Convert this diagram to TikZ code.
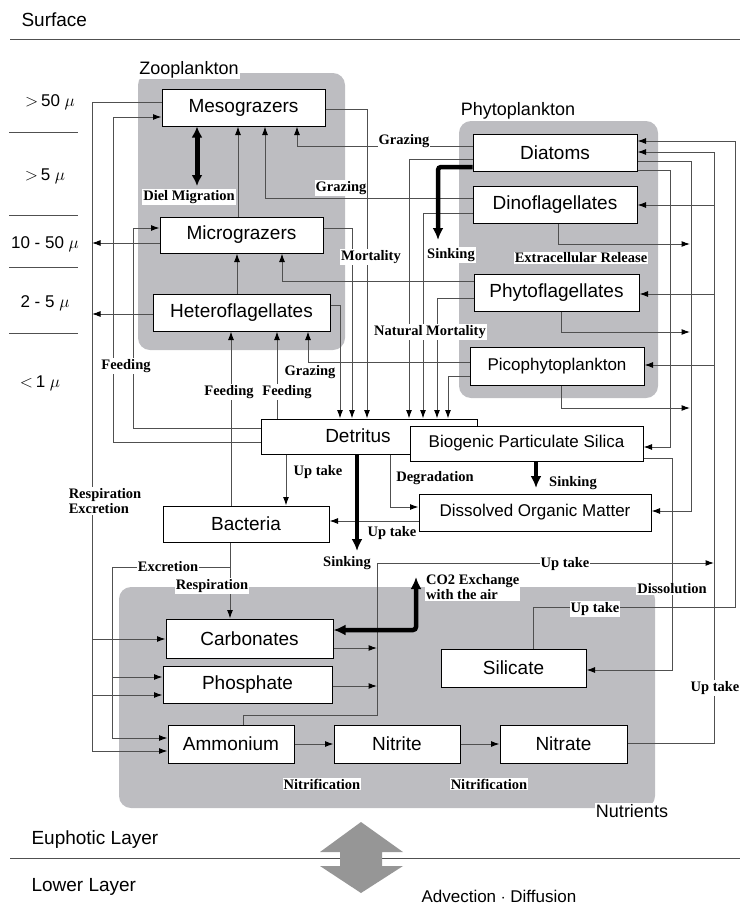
\documentclass[tikz,border=0pt]{standalone}
\usepackage{fontspec}
\setmainfont{Liberation Sans}
\newfontfamily\tms{Liberation Serif}
\usetikzlibrary{arrows.meta}
\definecolor{gbox}{RGB}{189,189,193}
\definecolor{lc}{RGB}{80,80,80}
\definecolor{garr}{RGB}{150,150,150}
\begin{document}
\begin{tikzpicture}[x=1pt,y=-1pt,
 box/.style={draw=black, fill=white, line width=1pt, inner sep=0pt, font=\fontsize{19}{20}\selectfont},
 sbox/.style={box, font=\fontsize{17}{18}\selectfont},
 grp/.style={fill=gbox, rounded corners=12pt},
 ln/.style={draw=lc, line width=1pt},
 ar/.style={ln, -{Latex[length=8.5pt,width=6pt,color=black]}},
 thk/.style={draw=black, line width=4.5pt, -{Latex[length=12pt,width=11pt]}},
 lab/.style={fill=white, inner sep=1pt, font=\tms\bfseries\fontsize{14.5}{15}\selectfont},
 glab/.style={fill=white, inner sep=1pt, font=\fontsize{18}{20}\selectfont},
 sizelab/.style={font=\fontsize{17}{18}\selectfont},
 layer/.style={font=\fontsize{19}{20}\selectfont, anchor=west},
]
\useasboundingbox (0,0) rectangle (740,905);

% layers
\node[layer] (surf) at (18,20) {Surface};
\draw[lc, line width=1pt] (10,39) -- (740,39);
\node[layer] (eup) at (28,840) {Euphotic Layer};
\node[layer] (low) at (28,887) {Lower Layer};
\draw[lc, line width=1pt] (10,858) -- (740,858);
\fill[garr] (361,822) -- (403,852) -- (382,852) -- (382,866) -- (403,866) -- (361,893)
  -- (320,866) -- (340,866) -- (340,852) -- (320,852) -- cycle;
\node[anchor=west, font=\fontsize{17}{18}\selectfont] (adv) at (418,896) {Advection $\cdot$ Diffusion};

% size classes
\node[sizelab] (s1) at (50,102) {$>$\,50 $\mu$};
\node[sizelab] (s2) at (45,176) {$>$\,5 $\mu$};
\node[sizelab] (s3) at (45,244) {10 - 50 $\mu$};
\node[sizelab] (s4) at (45,303) {2 - 5 $\mu$};
\node[sizelab] (s5) at (40,383) {$<$\,1 $\mu$};
\foreach \yy in {132,215,267,333} \draw[lc, line width=1pt] (9,\yy) -- (78,\yy);

% group backgrounds
\fill[grp] (138,73) rectangle (345,350);
\fill[grp] (459,121) rectangle (658,398);
\fill[grp] (119,587) rectangle (655,808);

% boxes
\node[box, minimum width=163pt, minimum height=37pt] (meso) at (243.5,107.5) {Mesograzers};
\node[box, minimum width=163pt, minimum height=36pt] (micro) at (241.5,235) {Micrograzers};
\node[box, minimum width=177pt, minimum height=37pt] (hetero) at (241.5,312.5) {Heteroflagellates};
\node[box, minimum width=164pt, minimum height=37pt] (diat) at (555,152.5) {Diatoms};
\node[box, minimum width=164pt, minimum height=37pt] (dino) at (555,204.5) {Dinoflagellates};
\node[box, minimum width=165pt, minimum height=37pt] (phytof) at (556.5,292.5) {Phytoflagellates};
\node[sbox, minimum width=174pt, minimum height=38pt] (pico) at (557,366) {Picophytoplankton};
\node[box, minimum width=216pt, minimum height=35pt] (det) at (369,436.5) {};
\node[box, draw=none, fill=none] (dettext) at (358,436) {Detritus};
\node[sbox, minimum width=233pt, minimum height=35pt] (bps) at (526.5,443.5) {Biogenic Particulate Silica};
\node[sbox, minimum width=232pt, minimum height=37pt] (dom) at (535,512.5) {Dissolved Organic Matter};
\node[box, minimum width=166pt, minimum height=36pt] (bact) at (246,524) {Bacteria};
\node[box, minimum width=167pt, minimum height=39pt] (carb) at (249.5,638.5) {Carbonates};
\node[box, minimum width=169pt, minimum height=37pt] (phos) at (247.5,684.5) {Phosphate};
\node[box, minimum width=126pt, minimum height=38pt] (ammo) at (231,744) {Ammonium};
\node[box, minimum width=126pt, minimum height=38pt] (nitrite) at (397,744) {Nitrite};
\node[box, minimum width=127pt, minimum height=38pt] (nitrate) at (563.5,744) {Nitrate};
\node[box, minimum width=145pt, minimum height=38pt] (sil) at (513.5,668) {Silicate};

% junction coordinates
\coordinate (rA) at (92,639);
\coordinate (rB) at (92,695);
\coordinate (rC) at (92,243);
\coordinate (rD) at (92,314);
\coordinate (eA) at (112,677);
\coordinate (uA) at (714,205);
\coordinate (uB) at (714,294);
\coordinate (uC) at (714,365);

% respiration / excretion of zooplankton
\draw[ar] (meso.west |- 0,102) -| (92,751) -- (ammo.west |- 0,751);
\draw[ar] (rA) -- (carb.west |- rA);
\draw[ar] (rB) -- (phos.west |- rB);
\draw[ar] (micro.west |- rC) -- (rC);
\draw[ar] (hetero.west |- rD) -- (rD);

% feeding on detritus
\draw[ar] (det.west |- 0,442) -| (113,117) -- (meso.west |- 0,117);
\draw[ar] (det.west |- 0,428) -| (133,228) -- (micro.west |- 0,228);
\draw[ar] (bact.north -| 231,0) -- (hetero.south -| 231,0);
\draw[ar] (det.north -| 277,0) -- (hetero.south -| 277,0);

% grazing
\draw[ar] (pico.west |- 0,362) -| (hetero.south -| 308,0);
\draw[ar] (hetero.north -| 237,0) -- (micro.south -| 237,0);
\draw[ar] (phytof.west |- 0,281) -| (micro.south -| 282,0);
\draw[ar] (micro.north -| 238,0) -- (meso.south -| 238,0);
\draw[ar] (dino.west |- 0,198) -| (meso.south -| 265,0);
\draw[ar] (diat.west |- 0,146) -| (meso.south -| 297,0);
\draw[draw=black, line width=5pt, {Latex[length=11pt,width=11pt]}-{Latex[length=11pt,width=11pt]}] (meso.south -| 197,0) -- (197,186);

% mortality
\draw[ar] (meso.east |- 0,109) -| (det.north -| 367,0);
\draw[ar] (micro.east |- 0,228) -| (det.north -| 352,0);
\draw[ar] (hetero.east |- 0,305) -| (det.north -| 340,0);
\draw[ar] (diat.west |- 0,159) -| (det.north -| 409,0);
\draw[ar] (dino.west |- 0,213) -| (det.north -| 423,0);
\draw[ar] (phytof.west |- 0,298) -| (det.north -| 437,0);
\draw[ar] (pico.west |- 0,376) -| (det.north -| 448,0);
\draw[thk, rounded corners=3pt] (diat.west |- 0,167) -| (438,240);

% extracellular release, DOM, BPS
\draw[ar] (diat.east |- 0,161) -| (691,511) -- (dom.east |- 0,511);
\draw[ar] (dino.south -| 558,0) |- (690,244);
\draw[ar] (phytof.south -| 561,0) |- (690,332);
\draw[ar] (pico.south -| 561,0) |- (690,408);
\draw[ar] (diat.east |- 0,170) -| (670,447) -- (bps.east |- 0,447);
\draw[ar] (bps.east |- 0,458) -| (672,670) -- (sil.east |- 0,670);

% nutrient uptake
\draw[ar] (nitrate.east |- 0,743) -| (714,152) -- (diat.east |- 0,152);
\draw[ar] (uA) -- (dino.east |- uA);
\draw[ar] (uB) -- (phytof.east |- uB);
\draw[ar] (uC) -- (pico.east |- uC);
\draw[ar] (sil.north -| 533,0) |- (735,607) |- (diat.east |- 0,141);
\draw[ar] (ammo.north -| 243,0) |- (377,715) |- (714,563);
\draw[ar] (carb.east |- 0,648) -- (377,648);
\draw[ar] (phos.east |- 0,686) -- (377,686);

% detritus fates
\draw[ar] (det.south -| 390,0) |- (dom.west |- 0,507);
\draw[ar] (det.south -| 286,0) -- (bact.north -| 286,0);
\draw[ar] (dom.west |- 0,521) -- (bact.east |- 0,521);
\draw[thk] (det.south -| 357,0) -- (357,551);
\draw[thk] (bps.south -| 536,0) -- (536,488);

% bacteria
\draw[ar] (bact.south -| 230,0) -- (carb.north -| 230,0);
\draw[ar] (230,567) -| (112,738) -- (ammo.west |- 0,738);
\draw[ar] (eA) -- (phos.west |- eA);

% CO2 exchange
\draw[draw=black, line width=4.5pt, rounded corners=3pt, {Latex[length=12pt,width=11pt]}-{Latex[length=12pt,width=11pt]}] (carb.east |- 0,630) -| (416,577);

% nitrification
\draw[ar] (ammo) -- (nitrite);
\draw[ar] (nitrite) -- (nitrate);

% group labels
\node[glab] (gz) at (189,70) {Zooplankton};
\node[glab] (gp) at (518,111) {Phytoplankton};
\node[glab] (gn) at (632,811) {Nutrients};

% flow labels
\node[lab] (l1) at (404,141) {Grazing};
\node[lab] (l2) at (341,188) {Grazing};
\node[lab] (l3) at (189,197) {Diel Migration};
\node[lab] (l4) at (371,257) {Mortality};
\node[lab] (l5) at (451,255) {Sinking};
\node[lab] (l6) at (581,258) {Extracellular Release};
\node[lab] (l7) at (430,332) {Natural Mortality};
\node[lab] (l8) at (126,366) {Feeding};
\node[lab] (l9) at (310,372) {Grazing};
\node[lab] (l10) at (229,392) {Feeding};
\node[lab] (l11) at (287,392) {Feeding};
\node[lab] (l12) at (318,472) {Up take};
\node[lab] (l13) at (435,478) {Degradation};
\node[lab] (l14) at (573,483) {Sinking};
\node[lab, align=left] (l15) at (105,501) {Respiration\\Excretion};
\node[lab] (l16) at (392,533) {Up take};
\node[lab] (l17) at (347,563) {Sinking};
\node[lab] (l18) at (565,564) {Up take};
\node[lab] (l19) at (168,567) {Excretion};
\node[lab] (l20) at (212,586) {Respiration};
\node[lab, align=left, anchor=west] (l21) at (425,587) {CO2 Exchange\\with the air};
\node[lab] (l22) at (672,589) {Dissolution};
\node[lab] (l23) at (595,609) {Up take};
\node[lab] (l24) at (715,688) {Up take};
\node[lab] (l25) at (322,784) {Nitrification};
\node[lab] (l26) at (489,784) {Nitrification};
\end{tikzpicture}
\end{document}
